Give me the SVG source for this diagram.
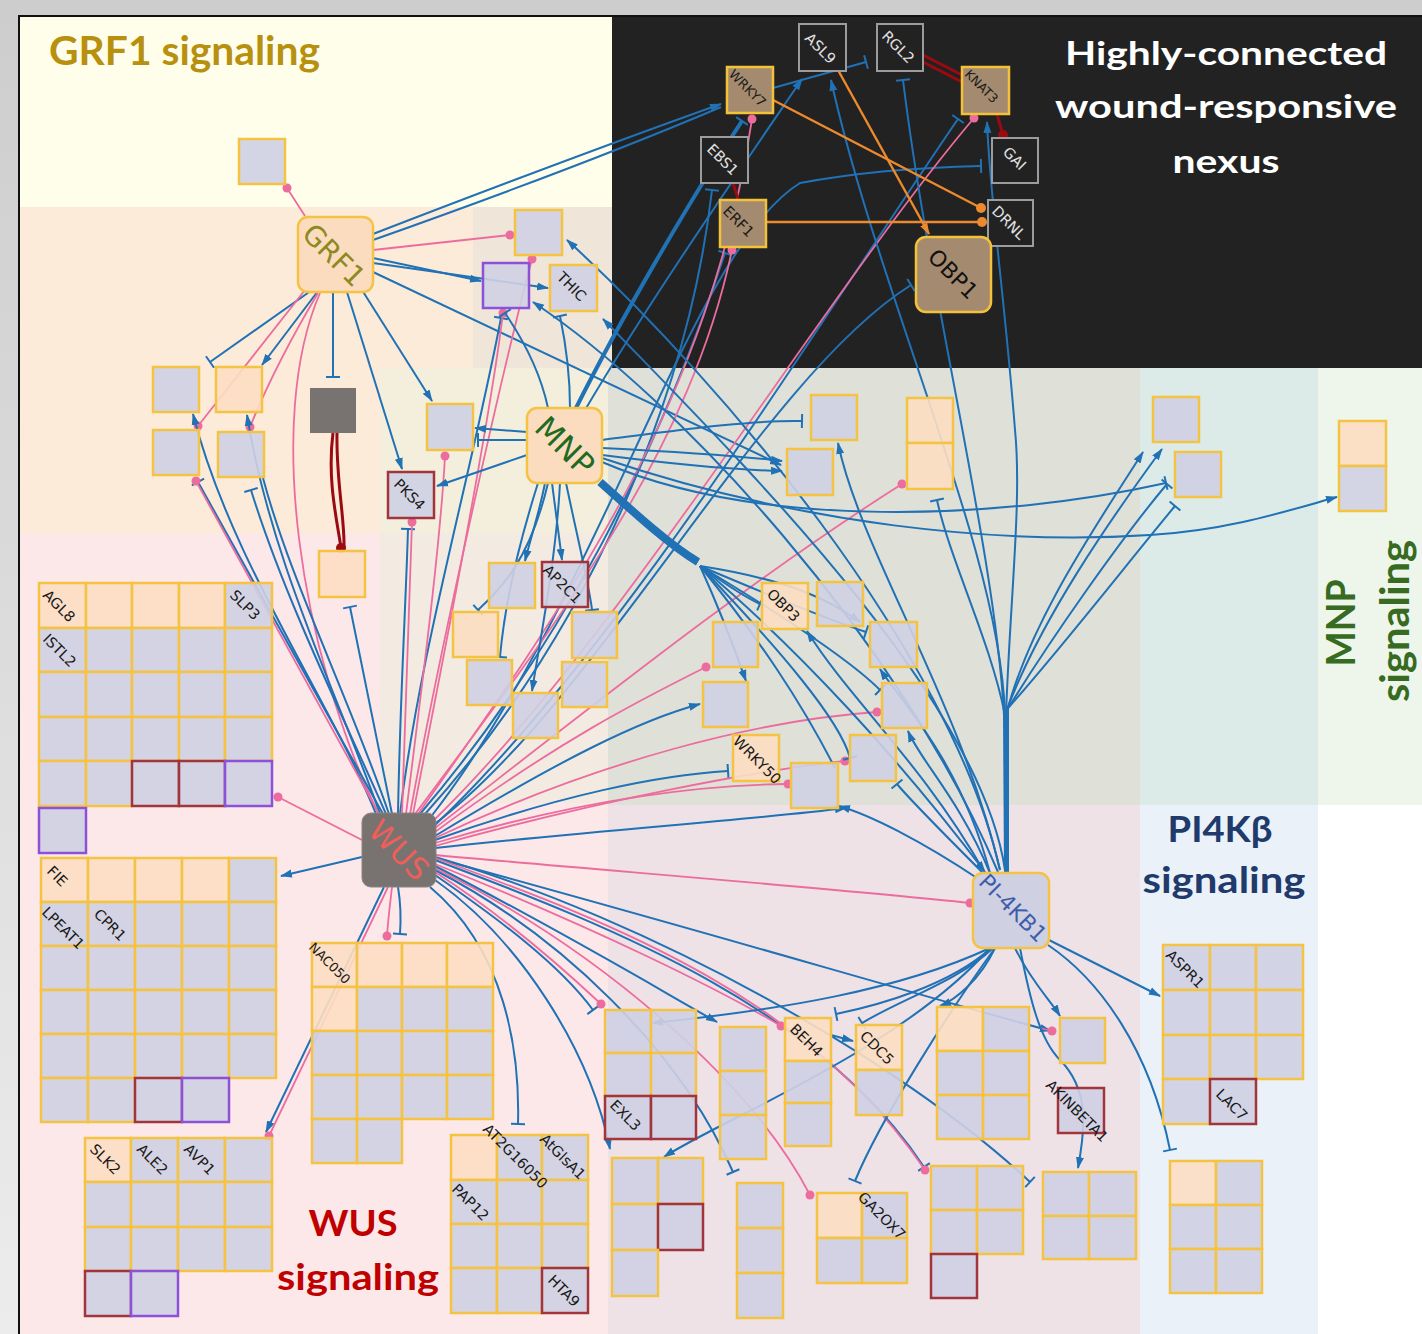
<svg xmlns="http://www.w3.org/2000/svg" width="1422" height="1334" viewBox="0 0 1422 1334">
<defs>
<linearGradient id="bg" x1="0" y1="0" x2="0" y2="1"><stop offset="0" stop-color="#cdcdcd"/><stop offset="1" stop-color="#ececec"/></linearGradient>
<marker id="ab" viewBox="0 0 12 10" refX="11" refY="5" markerWidth="12" markerHeight="10" markerUnits="userSpaceOnUse" orient="auto"><path d="M0,1 L12,5 L0,9 Z" fill="#2171b5"/></marker>
<marker id="ao" viewBox="0 0 12 10" refX="11" refY="5" markerWidth="12" markerHeight="10" markerUnits="userSpaceOnUse" orient="auto"><path d="M0,1 L12,5 L0,9 Z" fill="#ee8a2e"/></marker>
<marker id="tb" viewBox="-2 -8 4 16" refX="0" refY="0" markerWidth="4" markerHeight="16" markerUnits="userSpaceOnUse" orient="auto"><path d="M0,-7 V7" stroke="#2171b5" stroke-width="2"/></marker>
<marker id="dp" viewBox="-5 -5 10 10" refX="0" refY="0" markerWidth="10" markerHeight="10" markerUnits="userSpaceOnUse"><circle r="4.5" fill="#ec6c9e"/></marker>
<marker id="do" viewBox="-5 -5 10 10" refX="0" refY="0" markerWidth="10" markerHeight="10" markerUnits="userSpaceOnUse"><circle r="5" fill="#ee8a2e"/></marker>
<marker id="dr" viewBox="-5 -5 10 10" refX="0" refY="0" markerWidth="10" markerHeight="10" markerUnits="userSpaceOnUse"><circle r="5" fill="#9a0a10"/></marker>
</defs>
<style>
.e{fill:none;stroke:#2171b5;stroke-width:2}
.p{fill:none;stroke:#ec6c9e;stroke-width:1.8}
.o{fill:none;stroke:#ee8a2e;stroke-width:2.4}
.r{fill:none;stroke:#9a0a10;stroke-width:3}
.A{marker-end:url(#ab)}
.AO{marker-end:url(#ao)}
.T{marker-end:url(#tb)}
.D{marker-end:url(#dp)}
.DO{marker-end:url(#do)}
.DR{marker-end:url(#dr)}
.c{stroke:#f4c344;stroke-width:2.5;fill-opacity:.9}
.L{fill:#cfd0e3}
.P{fill:#fcdec2}
.R{stroke:#a2343b}
.V{stroke:#8d50d8}
.k{fill:#222;stroke:#9c9c9c;stroke-width:2}
.br{fill:#a48a6e;stroke:#f3c13a;stroke-width:2.5}
.t{font-family:"DejaVu Sans",sans-serif;font-size:14.5px;fill:#1a1a1a}
.tw{fill:#e2e2e2}
.h{font-family:Lato,"Open Sans",sans-serif;font-weight:700}
.hub{stroke-width:2.5;stroke:#f4c344}
</style>

<g id="background">
<rect x="0" y="0" width="1422" height="1334" fill="url(#bg)"/>
<rect x="19" y="16" width="1403" height="1318" fill="#fce8e9"/>
<rect x="19" y="16" width="593" height="191" fill="#fffeea"/>
<rect x="19" y="207" width="454" height="326" fill="#fcebd9"/>
<rect x="473" y="207" width="139" height="161" fill="#efe5d9"/>
<rect x="380" y="368" width="228" height="165" fill="#f3efdc"/>
<rect x="380" y="533" width="228" height="270" fill="#f3ebe1"/>
<rect x="608" y="368" width="532" height="437" fill="#dfe0d8"/>
<rect x="1140" y="368" width="178" height="437" fill="#dcebe7"/>
<rect x="1318" y="368" width="104" height="437" fill="#eef6eb"/>
<rect x="608" y="805" width="532" height="529" fill="#eee2e7"/>
<rect x="1140" y="805" width="178" height="529" fill="#ebf1f8"/>
<rect x="1318" y="805" width="104" height="529" fill="#ffffff"/>
<rect x="612" y="16" width="810" height="352" fill="#222222"/>
<rect x="19" y="16" width="1404" height="1320" fill="none" stroke="#111" stroke-width="2"/>
</g>

<g id="region-labels">
<text class="h" x="49" y="65" font-size="40" fill="#b8900f" textLength="271" lengthAdjust="spacingAndGlyphs">GRF1 signaling</text>
<text class="h" x="1226" y="65" font-size="33" fill="#ffffff" text-anchor="middle" textLength="322" lengthAdjust="spacingAndGlyphs">Highly-connected</text>
<text class="h" x="1226" y="118" font-size="33" fill="#ffffff" text-anchor="middle" textLength="342" lengthAdjust="spacingAndGlyphs">wound-responsive</text>
<text class="h" x="1226" y="173" font-size="33" fill="#ffffff" text-anchor="middle" textLength="107" lengthAdjust="spacingAndGlyphs">nexus</text>
<text class="h" transform="translate(1355,623) rotate(-90)" font-size="40" fill="#376b22" text-anchor="middle" textLength="87" lengthAdjust="spacingAndGlyphs">MNP</text>
<text class="h" transform="translate(1409,621) rotate(-90)" font-size="40" fill="#376b22" text-anchor="middle" textLength="162" lengthAdjust="spacingAndGlyphs">signaling</text>
<text class="h" x="1220" y="842" font-size="37" fill="#203a6b" text-anchor="middle" textLength="105" lengthAdjust="spacingAndGlyphs">PI4Kβ</text>
<text class="h" x="1224" y="893" font-size="37" fill="#203a6b" text-anchor="middle" textLength="163" lengthAdjust="spacingAndGlyphs">signaling</text>
<text class="h" x="353" y="1236" font-size="37" fill="#c00000" text-anchor="middle" textLength="89" lengthAdjust="spacingAndGlyphs">WUS</text>
<text class="h" x="358" y="1290" font-size="37" fill="#c00000" text-anchor="middle" textLength="162" lengthAdjust="spacingAndGlyphs">signaling</text>
</g>

<g id="connectors">
<!-- GRF1 -->
<path class="e A" d="M373,234 C500,185 620,140 721,104"/>
<path class="e" d="M373,240 C500,195 620,150 721,107"/>
<path class="e A" d="M373,258 L481,281"/>
<path class="e A" d="M373,263 L548,288"/>
<path class="e A" d="M373,272 L781,465"/>
<path class="e A" d="M347,292 L402,469"/>
<path class="e A" d="M362,290 L432,401"/>
<path class="e T" d="M333,292 L333,377"/>
<path class="e T" d="M312,290 L210,362"/>
<path class="e A" d="M318,291 L262,365"/>
<path class="p D" d="M305,216 L287,188"/>
<path class="p D" d="M373,250 L510,235"/>
<path class="p D" d="M305,290 L198,426"/>
<path class="p D" d="M318,293 C290,340 265,390 250,427"/>
<path class="p" d="M320,293 C265,420 300,650 378,813"/>
<path class="r DR" d="M333,433 C327,480 337,520 341,548"/>
<path class="r" d="M337,433 C336,480 345,520 344,548"/>
<!-- WUS -->
<path class="e A" d="M376,814 C330,700 230,560 193,414"/>
<path class="e A" d="M380,814 C340,700 270,560 247,415"/>
<path class="e T" d="M383,814 L198,482"/>
<path class="e T" d="M386,814 C345,720 285,600 251,490"/>
<path class="e" d="M389,814 C350,700 290,580 263,478"/>
<path class="e T" d="M392,814 L350,607"/>
<path class="e T" d="M398,814 C400,700 406,600 408,529"/>
<path class="e T" d="M400,814 C420,650 470,480 501,318"/>
<path class="e A" d="M362,857 L281,876"/>
<path class="e A" d="M384,887 L266,1132"/>
<path class="e T" d="M398,887 C401,905 401,920 400,934"/>
<path class="e T" d="M430,887 C505,950 520,1050 518,1124"/>
<path class="e A" d="M435,880 C520,940 590,1050 610,1149"/>
<path class="e T" d="M435,875 C500,920 560,965 593,1010"/>
<path class="e T" d="M435,870 C560,935 680,1050 733,1172"/>
<path class="e A" d="M435,866 C560,930 660,990 717,1022"/>
<path class="e T" d="M435,860 C620,930 820,1010 924,1167"/>
<path class="e T" d="M435,857 C650,920 900,1060 1030,1182"/>
<path class="e A" d="M435,858 C700,930 900,990 1051,1031"/>
<path class="e A" d="M435,836 C560,760 640,720 700,704"/>
<path class="e T" d="M435,840 C560,795 660,775 728,771"/>
<path class="e A" d="M435,848 C600,830 750,820 846,808"/>
<path class="e T" d="M420,814 C560,650 660,450 725,253"/>
<path class="e T" d="M425,814 C600,620 690,380 712,190"/>
<path class="e T" d="M432,826 C600,700 760,380 911,285"/>
<path class="e T" d="M434,826 C620,650 820,320 958,119"/>
<path class="e T" d="M430,818 C600,600 690,250 800,183 C870,170 935,167 981,166"/>
<path class="p D" d="M379,814 L196,481"/>
<path class="p D" d="M402,814 C405,700 410,600 412,522"/>
<path class="p D" d="M406,814 C420,700 440,550 445,456"/>
<path class="p D" d="M410,814 C440,650 500,380 532,259"/>
<path class="p D" d="M413,814 C445,650 490,420 503,313"/>
<path class="p D" d="M362,840 L278,797"/>
<path class="p D" d="M388,887 L269,1136"/>
<path class="p D" d="M392,887 C390,905 388,920 387,936"/>
<path class="p D" d="M435,872 C510,920 570,975 601,1004"/>
<path class="p D" d="M435,868 C600,950 750,1080 810,1195"/>
<path class="p D" d="M435,864 C600,930 720,990 781,1026"/>
<path class="p D" d="M435,858 C620,925 810,1000 925,1170"/>
<path class="p D" d="M435,855 C600,870 850,890 970,903"/>
<path class="p D" d="M435,832 C560,740 640,700 706,667"/>
<path class="p D" d="M435,843 C580,800 700,785 788,784"/>
<path class="p D" d="M435,846 C600,800 760,770 845,761"/>
<path class="p D" d="M435,838 C600,760 760,720 877,712"/>
<path class="p D" d="M435,828 C600,700 750,580 902,484"/>
<path class="p D" d="M415,814 C560,620 690,450 732,250"/>
<path class="p D" d="M418,814 C570,600 710,400 752,119"/>
<path class="p D" d="M432,822 C620,640 820,300 974,118"/>
<path class="p D" d="M1040,1028 L1052,1031"/>
<!-- MNP -->
<path class="e T" style="stroke-width:4" d="M575,410 C620,320 690,200 742,121"/>
<path class="e A" d="M585,410 C650,300 740,170 802,79"/>
<path class="e T" d="M602,440 C680,430 750,420 802,421"/>
<path class="e A" d="M602,448 C680,452 740,456 782,461"/>
<path class="e A" d="M602,455 C680,465 740,470 782,471"/>
<path class="e T" d="M602,462 C760,530 1000,520 1166,483"/>
<path class="e A" d="M602,458 C800,525 1000,545 1150,535 C1230,530 1290,510 1337,497"/>
<path class="e" style="stroke-width:8" d="M600,482 C640,518 670,545 698,562"/>
<path class="e A" d="M700,566 C800,650 900,760 985,872"/>
<path class="e T" d="M700,566 C780,600 830,620 866,632"/>
<path class="e T" d="M700,566 C790,620 850,660 880,690"/>
<path class="e A" d="M700,566 C720,610 735,650 746,681"/>
<path class="e T" d="M700,566 C720,580 740,595 760,604"/>
<path class="e A" d="M700,566 C790,580 830,600 860,622"/>
<path class="e T" d="M700,566 C780,650 840,720 850,758"/>
<path class="e" d="M700,566 C760,640 800,700 835,768"/>
<path class="e A" d="M527,455 L437,486"/>
<path class="e A" d="M527,432 L475,428"/>
<path class="e T" d="M527,440 L478,440"/>
<path class="e A" d="M545,483 C540,510 530,540 525,561"/>
<path class="e A" d="M552,483 L562,560"/>
<path class="e T" d="M538,483 C520,540 505,600 500,657"/>
<path class="e A" d="M560,483 C556,560 540,640 532,691"/>
<path class="e T" d="M566,483 C578,540 590,590 592,610"/>
<path class="e T" d="M548,483 C530,560 500,590 478,610"/>
<path class="e T" d="M548,408 C540,370 520,335 505,313"/>
<path class="e T" d="M570,408 C570,370 565,340 560,316"/>
<!-- PI-4KB1 -->
<path class="e A" d="M1008,873 L1006,715 C1010,600 1022,500 1015,430 C1005,300 990,200 987,122"/>
<path class="e A" d="M1006,873 L1005,715 C1000,550 880,300 831,80"/>
<path class="e T" d="M1005,873 L1004,715 C995,550 930,300 903,80"/>
<path class="e A" d="M1007,873 L1006,715 C1030,620 1100,520 1143,452"/>
<path class="e A" d="M1007,873 L1006,712 C1040,620 1110,520 1162,449"/>
<path class="e T" d="M1007,873 L1007,710 C1050,640 1120,540 1167,484"/>
<path class="e T" d="M1008,873 L1008,708 C1060,650 1130,560 1175,506"/>
<path class="e T" d="M1006,873 L1005,715 C990,640 950,560 937,500"/>
<path class="e A" d="M990,873 C960,800 920,760 908,731"/>
<path class="e T" d="M985,875 C940,830 910,800 897,784"/>
<path class="e A" d="M980,880 C920,840 870,815 839,806"/>
<path class="e A" d="M990,873 C960,760 900,700 880,669"/>
<path class="e A" d="M985,873 C920,760 850,700 807,631"/>
<path class="e A" d="M1000,870 C960,700 860,550 838,443"/>
<path class="e A" d="M1005,870 C980,700 750,470 603,319"/>
<path class="e A" d="M1000,870 C950,650 720,380 567,240"/>
<path class="e A" d="M998,872 C900,640 680,400 533,302"/>
<path class="e A" d="M995,948 C980,980 955,1000 940,1006"/>
<path class="e T" d="M993,948 C960,980 900,1000 862,1023"/>
<path class="e T" d="M991,948 C950,985 880,1005 836,1014"/>
<path class="e A" d="M990,948 C900,990 780,1010 652,1023"/>
<path class="e A" d="M990,948 C900,1050 720,1120 664,1157"/>
<path class="e T" d="M995,948 C950,1010 880,1120 855,1181"/>
<path class="e A" d="M1015,948 C1030,980 1050,1000 1060,1016"/>
<path class="e A" d="M1020,948 C1030,1000 1040,1040 1060,1060 C1090,1090 1085,1130 1078,1168"/>
<path class="e A" d="M1045,938 L1160,996"/>
<path class="e T" d="M1048,945 C1100,980 1150,1050 1170,1150"/>
<path class="e A" d="M831,1035 L853,1041"/>
<!-- nexus -->
<path class="e T" d="M773,88 L866,62"/>
<path class="o DO" d="M773,100 L981,208"/>
<path class="o DO" d="M766,222 L982,222"/>
<path class="o AO" d="M838,70 L929,234"/>
<path class="r" d="M923,55 L962,75"/>
<path class="r" d="M923,62 L962,82"/>
<path class="r DR" d="M997,114 L1003,135"/>
<path class="r" d="M733,183 L738,199"/>
</g>

<g id="nodes">
<!-- GRF1 area -->
<g id="n-grf1-top"><rect class="c L" x="239" y="139" width="46" height="45"/></g>
<g id="n-g1"><rect class="c L" x="153" y="367" width="46" height="45"/></g>
<g id="n-g2"><rect class="c P" x="216" y="367" width="46" height="45"/></g>
<g id="n-g3"><rect class="c L" x="153" y="430" width="46" height="45"/></g>
<g id="n-g4"><rect class="c L" x="218" y="432" width="46" height="45"/></g>
<g id="n-grey"><rect x="310" y="388" width="46" height="45" fill="#787270"/></g>
<g id="n-peach1"><rect class="c P" x="319" y="551" width="46" height="46"/></g>
<g id="n-pks4"><rect class="c L R" x="388" y="472" width="46" height="46"/><text class="t" transform="translate(393,485) rotate(45)">PKS4</text></g>
<g id="n-g5"><rect class="c L" x="427" y="404" width="46" height="46"/></g>
<g id="n-g6"><rect class="c L" x="515" y="210" width="47" height="45"/></g>
<g id="n-g7"><rect class="c L V" x="483" y="263" width="46" height="45"/></g>
<g id="n-thic"><rect class="c L" x="550" y="265" width="47" height="46"/><text class="t" transform="translate(556,278) rotate(45)">THIC</text></g>
<!-- MNP area -->
<g id="n-m1"><rect class="c L" x="489" y="563" width="46" height="45"/></g>
<g id="n-ap2c1"><rect class="c L R" x="542" y="562" width="46" height="45"/><text class="t" transform="translate(542,571) rotate(45)">AP2C1</text></g>
<g id="n-m2"><rect class="c P" x="453" y="612" width="45" height="45"/></g>
<g id="n-m3"><rect class="c L" x="572" y="612" width="45" height="46"/></g>
<g id="n-m4"><rect class="c L" x="467" y="660" width="45" height="45"/></g>
<g id="n-m5"><rect class="c L" x="562" y="662" width="45" height="45"/></g>
<g id="n-m6"><rect class="c L" x="513" y="693" width="45" height="45"/></g>
<g id="n-m7"><rect class="c L" x="787" y="449" width="46" height="46"/></g>
<g id="n-m8"><rect class="c L" x="811" y="395" width="46" height="45"/></g>
<g id="n-m9"><rect class="c P" x="907" y="398" width="46" height="45"/><rect class="c P" x="907" y="443" width="46" height="46"/></g>
<g id="n-m10"><rect class="c L" x="1153" y="397" width="46" height="45"/></g>
<g id="n-m11"><rect class="c L" x="1175" y="452" width="46" height="45"/></g>
<g id="n-m12"><rect class="c P" x="1339" y="421" width="47" height="45"/><rect class="c L" x="1339" y="466" width="47" height="45"/></g>
<g id="n-obp3"><rect class="c P" x="762" y="583" width="46" height="46"/><text class="t" transform="translate(766,595) rotate(45)">OBP3</text></g>
<g id="n-m13"><rect class="c L" x="817" y="582" width="46" height="44"/></g>
<g id="n-m14"><rect class="c L" x="713" y="622" width="45" height="45"/></g>
<g id="n-m15"><rect class="c L" x="870" y="622" width="47" height="45"/></g>
<g id="n-m16"><rect class="c L" x="703" y="682" width="45" height="45"/></g>
<g id="n-m17"><rect class="c L" x="882" y="683" width="45" height="45"/></g>
<g id="n-wrky50"><rect class="c P" x="733" y="735" width="46" height="46"/><text class="t" transform="translate(732,742) rotate(45)">WRKY50</text></g>
<g id="n-m18"><rect class="c L" x="850" y="735" width="46" height="46"/></g>
<g id="n-m19"><rect class="c L" x="791" y="763" width="47" height="45"/></g>
<!-- nexus -->
<g id="n-wrky7"><rect class="br" x="727" y="67" width="46" height="46"/><text class="t" style="font-size:13px" transform="translate(728,75) rotate(45)">WRKY7</text></g>
<g id="n-asl9"><rect class="k" x="799" y="24" width="47" height="47"/><text class="t tw" transform="translate(804,39) rotate(45)">ASL9</text></g>
<g id="n-rgl2"><rect class="k" x="877" y="24" width="46" height="47"/><text class="t tw" transform="translate(881,37) rotate(45)">RGL2</text></g>
<g id="n-ebs1"><rect class="k" x="701" y="137" width="47" height="46"/><text class="t tw" transform="translate(706,150) rotate(45)">EBS1</text></g>
<g id="n-erf1"><rect class="br" x="720" y="200" width="46" height="47"/><text class="t" transform="translate(722,212) rotate(45)">ERF1</text></g>
<g id="n-knat3"><rect class="br" x="962" y="67" width="47" height="47"/><text class="t" style="font-size:12.5px" transform="translate(964,75) rotate(45)">KNAT3</text></g>
<g id="n-gai"><rect class="k" x="992" y="138" width="46" height="45"/><text class="t tw" transform="translate(1002,153) rotate(45)">GAI</text></g>
<g id="n-drnl"><rect class="k" x="988" y="200" width="45" height="46"/><text class="t tw" transform="translate(991,212) rotate(45)">DRNL</text></g>

<!-- WUS grids -->
<g id="grid-agl8">
<rect class="c P" x="39" y="583" width="47" height="45"/><rect class="c P" x="86" y="583" width="46" height="45"/><rect class="c P" x="132" y="583" width="47" height="45"/><rect class="c P" x="179" y="583" width="46" height="45"/><rect class="c L" x="225" y="583" width="47" height="45"/>
<rect class="c L" x="39" y="628" width="47" height="44"/><rect class="c L" x="86" y="628" width="46" height="44"/><rect class="c L" x="132" y="628" width="47" height="44"/><rect class="c L" x="179" y="628" width="46" height="44"/><rect class="c L" x="225" y="628" width="47" height="44"/>
<rect class="c L" x="39" y="672" width="47" height="45"/><rect class="c L" x="86" y="672" width="46" height="45"/><rect class="c L" x="132" y="672" width="47" height="45"/><rect class="c L" x="179" y="672" width="46" height="45"/><rect class="c L" x="225" y="672" width="47" height="45"/>
<rect class="c L" x="39" y="717" width="47" height="44"/><rect class="c L" x="86" y="717" width="46" height="44"/><rect class="c L" x="132" y="717" width="47" height="44"/><rect class="c L" x="179" y="717" width="46" height="44"/><rect class="c L" x="225" y="717" width="47" height="44"/>
<rect class="c L" x="39" y="761" width="47" height="45"/><rect class="c L" x="86" y="761" width="46" height="45"/><rect class="c L R" x="132" y="761" width="47" height="45"/><rect class="c L R" x="179" y="761" width="46" height="45"/><rect class="c L V" x="225" y="761" width="47" height="45"/>
<rect class="c L V" x="39" y="808" width="47" height="45"/>
<text class="t" transform="translate(42,596) rotate(45)">AGL8</text>
<text class="t" transform="translate(229,596) rotate(45)">SLP3</text>
<text class="t" transform="translate(42,640) rotate(45)">ISTL2</text>
</g>
<g id="grid-fie">
<rect class="c P" x="41" y="858" width="47" height="44"/><rect class="c P" x="88" y="858" width="47" height="44"/><rect class="c P" x="135" y="858" width="47" height="44"/><rect class="c P" x="182" y="858" width="47" height="44"/><rect class="c L" x="229" y="858" width="47" height="44"/>
<rect class="c L" x="41" y="902" width="47" height="44"/><rect class="c L" x="88" y="902" width="47" height="44"/><rect class="c L" x="135" y="902" width="47" height="44"/><rect class="c L" x="182" y="902" width="47" height="44"/><rect class="c L" x="229" y="902" width="47" height="44"/>
<rect class="c L" x="41" y="946" width="47" height="44"/><rect class="c L" x="88" y="946" width="47" height="44"/><rect class="c L" x="135" y="946" width="47" height="44"/><rect class="c L" x="182" y="946" width="47" height="44"/><rect class="c L" x="229" y="946" width="47" height="44"/>
<rect class="c L" x="41" y="990" width="47" height="44"/><rect class="c L" x="88" y="990" width="47" height="44"/><rect class="c L" x="135" y="990" width="47" height="44"/><rect class="c L" x="182" y="990" width="47" height="44"/><rect class="c L" x="229" y="990" width="47" height="44"/>
<rect class="c L" x="41" y="1034" width="47" height="44"/><rect class="c L" x="88" y="1034" width="47" height="44"/><rect class="c L" x="135" y="1034" width="47" height="44"/><rect class="c L" x="182" y="1034" width="47" height="44"/><rect class="c L" x="229" y="1034" width="47" height="44"/>
<rect class="c L" x="41" y="1078" width="47" height="44"/><rect class="c L" x="88" y="1078" width="47" height="44"/><rect class="c L R" x="135" y="1078" width="47" height="44"/><rect class="c L V" x="182" y="1078" width="47" height="44"/>
<text class="t" transform="translate(46,872) rotate(45)">FIE</text>
<text class="t" transform="translate(41,913) rotate(45)">LPEAT1</text>
<text class="t" transform="translate(93,915) rotate(45)">CPR1</text>
</g>
<g id="grid-slk2">
<rect class="c P" x="85" y="1138" width="46" height="44"/><rect class="c L" x="131" y="1138" width="47" height="44"/><rect class="c L" x="178" y="1138" width="47" height="44"/><rect class="c L" x="225" y="1138" width="47" height="44"/>
<rect class="c L" x="85" y="1182" width="46" height="45"/><rect class="c L" x="131" y="1182" width="47" height="45"/><rect class="c L" x="178" y="1182" width="47" height="45"/><rect class="c L" x="225" y="1182" width="47" height="45"/>
<rect class="c L" x="85" y="1227" width="46" height="44"/><rect class="c L" x="131" y="1227" width="47" height="44"/><rect class="c L" x="178" y="1227" width="47" height="44"/><rect class="c L" x="225" y="1227" width="47" height="44"/>
<rect class="c L R" x="85" y="1271" width="46" height="45"/><rect class="c L V" x="131" y="1271" width="47" height="45"/>
<text class="t" transform="translate(89,1150) rotate(45)">SLK2</text>
<text class="t" transform="translate(136,1150) rotate(45)">ALE2</text>
<text class="t" transform="translate(183,1150) rotate(45)">AVP1</text>
</g>
<g id="grid-nac050">
<rect class="c P" x="312" y="943" width="45" height="44"/><rect class="c P" x="357" y="943" width="45" height="44"/><rect class="c P" x="402" y="943" width="45" height="44"/><rect class="c P" x="447" y="943" width="46" height="44"/>
<rect class="c P" x="312" y="987" width="45" height="44"/><rect class="c L" x="357" y="987" width="45" height="44"/><rect class="c L" x="402" y="987" width="45" height="44"/><rect class="c L" x="447" y="987" width="46" height="44"/>
<rect class="c L" x="312" y="1031" width="45" height="44"/><rect class="c L" x="357" y="1031" width="45" height="44"/><rect class="c L" x="402" y="1031" width="45" height="44"/><rect class="c L" x="447" y="1031" width="46" height="44"/>
<rect class="c L" x="312" y="1075" width="45" height="44"/><rect class="c L" x="357" y="1075" width="45" height="44"/><rect class="c L" x="402" y="1075" width="45" height="44"/><rect class="c L" x="447" y="1075" width="46" height="44"/>
<rect class="c L" x="312" y="1119" width="45" height="44"/><rect class="c L" x="357" y="1119" width="45" height="44"/>
<text class="t" style="font-size:13px" transform="translate(308,948) rotate(45)">NAC050</text>
</g>
<g id="grid-at2g16050">
<rect class="c P" x="451" y="1135" width="46" height="45"/><rect class="c L" x="497" y="1135" width="45" height="45"/><rect class="c L" x="542" y="1135" width="46" height="45"/>
<rect class="c L" x="451" y="1180" width="46" height="44"/><rect class="c L" x="497" y="1180" width="45" height="44"/><rect class="c L" x="542" y="1180" width="46" height="44"/>
<rect class="c L" x="451" y="1224" width="46" height="44"/><rect class="c L" x="497" y="1224" width="45" height="44"/><rect class="c L" x="542" y="1224" width="46" height="44"/>
<rect class="c L" x="451" y="1268" width="46" height="45"/><rect class="c L" x="497" y="1268" width="45" height="45"/><rect class="c L R" x="542" y="1268" width="46" height="45"/>
<text class="t" transform="translate(482,1130) rotate(45)">AT2G16050</text>
<text class="t" transform="translate(539,1140) rotate(45)">AtGlsA1</text>
<text class="t" transform="translate(451,1190) rotate(45)">PAP12</text>
<text class="t" transform="translate(547,1281) rotate(45)">HTA9</text>
</g>
<!-- bottom middle -->
<g id="grid-exl3">
<rect class="c L" x="605" y="1010" width="46" height="43"/><rect class="c L" x="651" y="1010" width="45" height="43"/>
<rect class="c L" x="605" y="1053" width="46" height="43"/><rect class="c L" x="651" y="1053" width="45" height="43"/>
<rect class="c L R" x="605" y="1096" width="46" height="43"/><rect class="c L R" x="651" y="1096" width="45" height="43"/>
<text class="t" transform="translate(609,1106) rotate(45)">EXL3</text>
</g>
<g id="grid-b2">
<rect class="c L" x="612" y="1158" width="46" height="46"/><rect class="c L" x="658" y="1158" width="45" height="46"/>
<rect class="c L" x="612" y="1204" width="46" height="46"/><rect class="c L R" x="658" y="1204" width="45" height="46"/>
<rect class="c L" x="612" y="1250" width="46" height="46"/>
</g>
<g id="grid-b3"><rect class="c L" x="720" y="1027" width="46" height="44"/><rect class="c L" x="720" y="1071" width="46" height="44"/><rect class="c L" x="720" y="1115" width="46" height="44"/></g>
<g id="grid-b4"><rect class="c L" x="737" y="1183" width="46" height="45"/><rect class="c L" x="737" y="1228" width="46" height="45"/><rect class="c L" x="737" y="1273" width="46" height="45"/></g>
<g id="grid-beh4"><rect class="c P" x="785" y="1018" width="46" height="43"/><rect class="c L" x="785" y="1061" width="46" height="42"/><rect class="c L" x="785" y="1103" width="46" height="43"/><text class="t" transform="translate(789,1030) rotate(45)">BEH4</text></g>
<g id="grid-cdc5"><rect class="c P" x="856" y="1025" width="46" height="45"/><rect class="c L" x="856" y="1070" width="46" height="45"/><text class="t" transform="translate(859,1037) rotate(45)">CDC5</text></g>
<g id="grid-ga2ox7"><rect class="c P" x="817" y="1193" width="45" height="45"/><rect class="c L" x="862" y="1193" width="45" height="45"/><rect class="c L" x="817" y="1238" width="45" height="45"/><rect class="c L" x="862" y="1238" width="45" height="45"/><text class="t" transform="translate(857,1198) rotate(45)">GA2OX7</text></g>
<g id="grid-b5">
<rect class="c P" x="937" y="1007" width="46" height="44"/><rect class="c L" x="983" y="1007" width="46" height="44"/>
<rect class="c L" x="937" y="1051" width="46" height="44"/><rect class="c L" x="983" y="1051" width="46" height="44"/>
<rect class="c L" x="937" y="1095" width="46" height="44"/><rect class="c L" x="983" y="1095" width="46" height="44"/>
</g>
<g id="grid-b6">
<rect class="c L" x="931" y="1166" width="46" height="44"/><rect class="c L" x="977" y="1166" width="46" height="44"/>
<rect class="c L" x="931" y="1210" width="46" height="44"/><rect class="c L" x="977" y="1210" width="46" height="44"/>
<rect class="c L R" x="931" y="1254" width="46" height="44"/>
</g>
<g id="n-b7"><rect class="c L" x="1060" y="1018" width="45" height="45"/></g>
<g id="n-akinbeta1"><rect class="c L R" x="1058" y="1088" width="46" height="45"/><text class="t" transform="translate(1045,1086) rotate(45)">AKINBETA1</text></g>
<g id="grid-b8">
<rect class="c L" x="1043" y="1172" width="46" height="44"/><rect class="c L" x="1089" y="1172" width="47" height="44"/>
<rect class="c L" x="1043" y="1216" width="46" height="43"/><rect class="c L" x="1089" y="1216" width="47" height="43"/>
</g>
<g id="grid-aspr1">
<rect class="c L" x="1163" y="945" width="47" height="45"/><rect class="c L" x="1210" y="945" width="46" height="45"/><rect class="c L" x="1256" y="945" width="47" height="45"/>
<rect class="c L" x="1163" y="990" width="47" height="45"/><rect class="c L" x="1210" y="990" width="46" height="45"/><rect class="c L" x="1256" y="990" width="47" height="45"/>
<rect class="c L" x="1163" y="1035" width="47" height="44"/><rect class="c L" x="1210" y="1035" width="46" height="44"/><rect class="c L" x="1256" y="1035" width="47" height="44"/>
<rect class="c L" x="1163" y="1079" width="47" height="45"/><rect class="c L R" x="1210" y="1079" width="46" height="45"/>
<text class="t" transform="translate(1165,956) rotate(45)">ASPR1</text>
<text class="t" transform="translate(1215,1095) rotate(45)">LAC7</text>
</g>
<g id="grid-b9">
<rect class="c P" x="1170" y="1161" width="46" height="44"/><rect class="c L" x="1216" y="1161" width="46" height="44"/>
<rect class="c L" x="1170" y="1205" width="46" height="44"/><rect class="c L" x="1216" y="1205" width="46" height="44"/>
<rect class="c L" x="1170" y="1249" width="46" height="44"/><rect class="c L" x="1216" y="1249" width="46" height="44"/>
</g>

<!-- hubs -->
<g id="hub-grf1"><rect class="hub" x="298" y="217" width="75" height="75" rx="10" fill="#fcdcbf"/><text transform="translate(334,255) rotate(45)" text-anchor="middle" dy="0.35em" font-family="DejaVu Sans,sans-serif" font-size="28" fill="#8c8a1e">GRF1</text></g>
<g id="hub-mnp"><rect class="hub" x="527" y="408" width="75" height="75" rx="10" fill="#fcdcbf"/><text transform="translate(565,446) rotate(45)" text-anchor="middle" dy="0.35em" font-family="DejaVu Sans,sans-serif" font-size="31" fill="#1e6b22">MNP</text></g>
<g id="hub-wus"><rect x="362" y="813" width="74" height="74" rx="9" fill="#787270" stroke="#8a8580" stroke-width="1"/><text transform="translate(399,850) rotate(45)" text-anchor="middle" dy="0.35em" font-family="DejaVu Sans,sans-serif" font-size="30" fill="#f05e5a">WUS</text></g>
<g id="hub-pi4kb1"><rect class="hub" x="973" y="873" width="76" height="75" rx="10" fill="#d0d0e3"/><text transform="translate(1013,908) rotate(45)" text-anchor="middle" dy="0.35em" font-family="DejaVu Sans,sans-serif" font-size="22" fill="#3d5eaa">PI-4KB1</text></g>
<g id="hub-obp1"><rect x="916" y="237" width="75" height="75" rx="10" fill="#a48a6e" stroke="#f3c13a" stroke-width="2.5"/><text transform="translate(953,274) rotate(45)" text-anchor="middle" dy="0.35em" font-family="DejaVu Sans,sans-serif" font-size="22" fill="#111">OBP1</text></g>
</g>
</svg>
